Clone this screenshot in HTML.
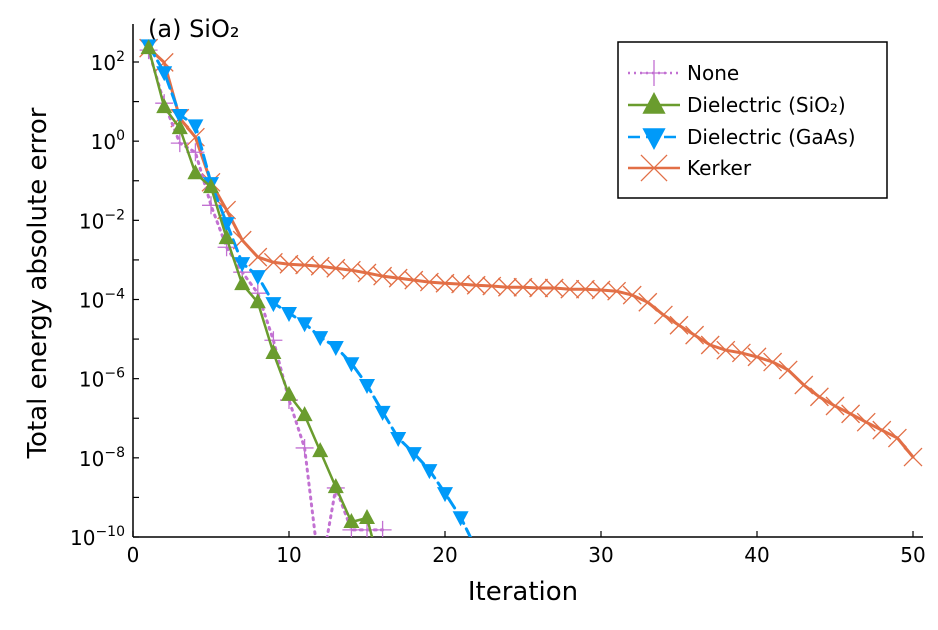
<!DOCTYPE html>
<html><head><meta charset="utf-8"><style>
body{margin:0;background:#fff;}
svg text{font-family:"DejaVu Sans","Liberation Sans",sans-serif;fill:#000;}
</style></head><body>
<svg id="chart" width="938" height="625" xmlns="http://www.w3.org/2000/svg">
<defs><clipPath id="clip"><rect x="133" y="20" width="790" height="517"/></clipPath></defs>
<g id="axes"></g>
<g id="series" clip-path="url(#clip)"></g>
<g id="legend"></g>
</svg>
<script>
const iterations = Array.from({length:50},(_,i)=>i+1);
const noneLog = [2.30,0.96,-0.05,-0.28,-1.62,-2.68,-3.31,-3.84,-5.03,-6.54,-7.75,-11,-8.76,-9.82,-9.82,-9.82];
const sio2Log = [2.35,0.86,0.33,-0.81,-1.16,-2.45,-3.61,-4.07,-5.35,-6.41,-6.92,-7.83,-8.74,-9.62,-9.52,-11];
const gaasLog = [2.42,1.74,0.66,0.40,-1.06,-2.07,-3.08,-3.41,-4.09,-4.34,-4.60,-4.95,-5.20,-5.61,-6.16,-6.84,-7.50,-7.88,-8.31,-8.89,-9.5,-10.3];
const kerkerLog = [2.35,1.99,0.58,0.10,-1.04,-1.74,-2.50,-2.93,-3.06,-3.11,-3.13,-3.16,-3.21,-3.26,-3.33,-3.41,-3.46,-3.51,-3.56,-3.59,-3.61,-3.64,-3.66,-3.69,-3.69,-3.71,-3.71,-3.74,-3.74,-3.76,-3.79,-3.89,-4.07,-4.39,-4.65,-4.90,-5.15,-5.28,-5.35,-5.45,-5.58,-5.78,-6.16,-6.46,-6.69,-6.89,-7.10,-7.30,-7.50,-7.98];
const xTicks = [0,10,20,30,40,50];
const yTicks = [2,0,-2,-4,-6,-8,-10];

const NS="http://www.w3.org/2000/svg";
const X0=133,X1=913,Y0=537,Y1=62;
const xs=v=>X0+(v/50)*(X1-X0);
const ys=l=>Y0-((l+10)/12)*(Y0-Y1);
function mk(tag,attrs,parent){const e=document.createElementNS(NS,tag);for(const k in attrs)e.setAttribute(k,attrs[k]);parent.appendChild(e);return e;}
const axes=document.getElementById('axes'),ser=document.getElementById('series'),leg=document.getElementById('legend');

let e=mk('line',{x1:X0,y1:24,x2:X0,y2:Y0,stroke:'#000','stroke-width':1.5},axes);


e=mk('line',{x1:X0,y1:Y0,x2:X1+10,y2:Y0,stroke:'#000','stroke-width':1.5},axes);


xTicks.forEach(t=>{
  mk('line',{x1:xs(t),y1:Y0,x2:xs(t),y2:Y0-6,stroke:'#000','stroke-width':1.2},axes);
  const tx=mk('text',{x:xs(t),y:Y0+25,'text-anchor':'middle','font-size':20},axes);
  tx.textContent=t;
  
  
});
for(let l=2;l>=-10;l--){mk('line',{x1:X0,y1:ys(l),x2:X0+6,y2:ys(l),stroke:'#000','stroke-width':1.2},axes);}
yTicks.forEach(t=>{
  const tx=mk('text',{x:X0-8,y:ys(t)+8,'text-anchor':'end','font-size':20},axes);
  
  
  tx.innerHTML='10<tspan dy="-9" font-size="14">'+(t<0?'\u2212'+(-t):t)+'</tspan>';
});
e=mk('text',{x:523,y:600,'text-anchor':'middle','font-size':26},axes);e.textContent='Iteration';


e=mk('text',{x:46,y:283,'text-anchor':'middle','font-size':26,transform:'rotate(-90 46 283)'},axes);e.textContent='Total energy absolute error';


e=mk('text',{x:148,y:37,'font-size':24},axes);e.textContent='(a) SiO\u2082';



function marker(type,cx,cy,color,parent,s){
  s=s||1;
  if(type==='plus'){mk('path',{d:`M${cx-9*s} ${cy}H${cx+9*s}M${cx} ${cy-9*s}V${cy+9*s}`,stroke:color,'stroke-width':1.3,fill:'none'},parent);}
  else if(type==='up'){mk('path',{d:`M${cx} ${cy-9*s}L${cx+8*s} ${cy+6*s}L${cx-8*s} ${cy+6*s}Z`,fill:color},parent);}
  else if(type==='down'){mk('path',{d:`M${cx} ${cy+9*s}L${cx+8*s} ${cy-6*s}L${cx-8*s} ${cy-6*s}Z`,fill:color},parent);}
  else {mk('path',{d:`M${cx-9*s} ${cy-9*s}L${cx+9*s} ${cy+9*s}M${cx+9*s} ${cy-9*s}L${cx-9*s} ${cy+9*s}`,stroke:color,'stroke-width':1.3,fill:'none'},parent);}
}
const series=[
 {name:'kerker',data:kerkerLog,color:'#e26f46',dash:'',w:3,m:'x'},
 {name:'none',data:noneLog,color:'#c271d2',dash:'2 5',w:3,m:'plus'},
 {name:'dielectric-gaas',data:gaasLog,color:'#009af9',dash:'12 6',w:3,m:'down'},
 {name:'dielectric-sio2',data:sio2Log,color:'#6a9c2e',dash:'',w:2.5,m:'up'},
];
series.forEach(s=>{
  const g=mk('g',{},ser);
  
  
  const pts=s.data.map((v,i)=>xs(iterations[i]).toFixed(1)+','+ys(v).toFixed(1)).join(' ');
  const p=mk('polyline',{points:pts,fill:'none',stroke:s.color,'stroke-width':s.w,'stroke-dasharray':s.dash,'stroke-linecap':'round','stroke-linejoin':'round'},g);
  
  
  s.data.forEach((v,i)=>{if(v>=-10.2)marker(s.m,xs(iterations[i]),ys(v),s.color,g);});
});
const lb=mk('rect',{x:618,y:42,width:269,height:156,fill:'#fff',stroke:'#000','stroke-width':1.5},leg);


const legItems=[['None','#c271d2','2 4','plus',73],['Dielectric (SiO\u2082)','#6a9c2e','','up',105],['Dielectric (GaAs)','#009af9','12 6','down',137],['Kerker','#e26f46','','x',168]];
legItems.forEach(it=>{
  const g=mk('g',{},leg);
  
  
  mk('line',{x1:628,y1:it[4],x2:680,y2:it[4],stroke:it[1],'stroke-width':2.5,'stroke-dasharray':it[2]},g);
  marker(it[3],654,it[4],it[1],g,1.45);
  const t=mk('text',{x:687,y:it[4]+7,'font-size':20},g);t.textContent=it[0];
});
</script>
</body></html>
